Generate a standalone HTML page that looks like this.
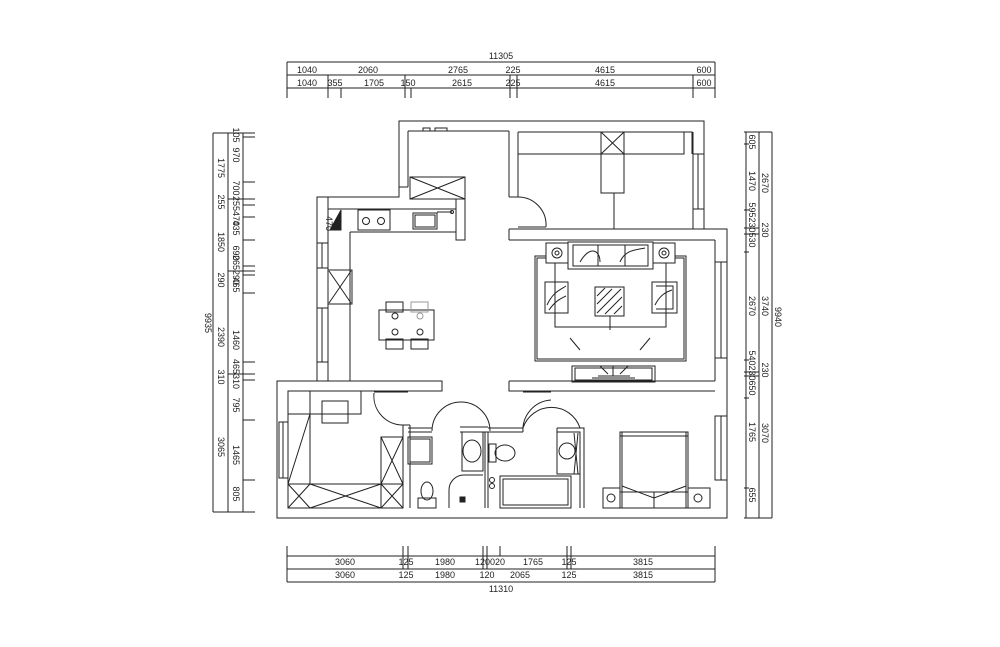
<!DOCTYPE html>
<html><head><meta charset="utf-8"><style>
html,body{margin:0;padding:0;background:#fff;width:1000px;height:647px;overflow:hidden}
svg{display:block}
text{font-family:"Liberation Sans",sans-serif;font-size:9px;fill:#222}
</style></head><body>
<svg width="1000" height="647" viewBox="0 0 1000 647" xmlns="http://www.w3.org/2000/svg">
<g stroke="#222" stroke-width="1" fill="none">
<!-- top dims -->
<line x1="287" y1="62" x2="715" y2="62"/><line x1="287" y1="75" x2="715" y2="75"/><line x1="287" y1="88" x2="715" y2="88"/>
<line x1="287" y1="62" x2="287" y2="98"/><line x1="715" y1="62" x2="715" y2="98"/>
<line x1="328" y1="75" x2="328" y2="98"/><line x1="405" y1="75" x2="405" y2="98"/><line x1="510" y1="75" x2="510" y2="98"/><line x1="517" y1="75" x2="517" y2="98"/><line x1="693" y1="75" x2="693" y2="98"/>
<line x1="341" y1="88" x2="341" y2="98"/><line x1="411" y1="88" x2="411" y2="98"/>
<!-- bottom dims -->
<line x1="287" y1="556" x2="715" y2="556"/><line x1="287" y1="569" x2="715" y2="569"/><line x1="287" y1="582" x2="715" y2="582"/>
<line x1="287" y1="546" x2="287" y2="582"/><line x1="715" y1="546" x2="715" y2="582"/>
<line x1="403" y1="546" x2="403" y2="569"/><line x1="408" y1="546" x2="408" y2="569"/><line x1="483" y1="546" x2="483" y2="569"/><line x1="487" y1="546" x2="487" y2="569"/><line x1="500" y1="546" x2="500" y2="556"/><line x1="567" y1="546" x2="567" y2="569"/><line x1="571" y1="546" x2="571" y2="569"/>
<!-- left dims -->
<line x1="213" y1="133" x2="213" y2="512"/><line x1="228" y1="133" x2="228" y2="512"/><line x1="243" y1="133" x2="243" y2="512"/>
<line x1="213" y1="133" x2="255" y2="133"/><line x1="213" y1="512" x2="255" y2="512"/>
<g>
<line x1="243" y1="137" x2="255" y2="137"/><line x1="243" y1="182" x2="255" y2="182"/><line x1="228" y1="199" x2="255" y2="199"/><line x1="243" y1="205" x2="255" y2="205"/><line x1="243" y1="217" x2="255" y2="217"/><line x1="243" y1="240" x2="255" y2="240"/><line x1="243" y1="266" x2="255" y2="266"/><line x1="228" y1="271" x2="255" y2="271"/><line x1="243" y1="275" x2="255" y2="275"/><line x1="243" y1="293" x2="255" y2="293"/><line x1="243" y1="362" x2="255" y2="362"/><line x1="228" y1="374" x2="255" y2="374"/><line x1="243" y1="380" x2="255" y2="380"/><line x1="243" y1="420" x2="255" y2="420"/><line x1="243" y1="480" x2="255" y2="480"/>
</g>
<!-- right dims -->
<line x1="746" y1="132" x2="746" y2="518"/><line x1="759" y1="132" x2="759" y2="518"/><line x1="772" y1="132" x2="772" y2="518"/>
<line x1="744" y1="132" x2="772" y2="132"/><line x1="744" y1="518" x2="772" y2="518"/>
<line x1="744" y1="144" x2="749" y2="144"/><line x1="744" y1="210" x2="749" y2="210"/><line x1="744" y1="228" x2="759" y2="228"/><line x1="744" y1="234" x2="759" y2="234"/><line x1="744" y1="252" x2="749" y2="252"/><line x1="744" y1="360" x2="749" y2="360"/><line x1="744" y1="372" x2="759" y2="372"/><line x1="744" y1="376" x2="759" y2="376"/><line x1="744" y1="398" x2="749" y2="398"/><line x1="744" y1="488" x2="749" y2="488"/>

<!-- outer walls -->
<path d="M399 121 H704 V229 H727 V518 H277 V381 H317 V197 H399 Z"/>
<path d="M408 131 H509 M518 132 H692 V154 M693 132 V229 M408 131 V187 M399 197 V187 H408"/>
<!-- top-left room windows/details -->
<rect x="423" y="128" width="7" height="3"/><rect x="435" y="128" width="12" height="3"/>
<!-- fridge -->
<rect x="410" y="177" width="55" height="22"/><path d="M410 177 L465 199 M465 177 L410 199"/>
<path d="M456 199 V240 H465 V177"/>
<!-- kitchen counter -->
<path d="M328 209 H456 M350 232 H456 M328 209 V381 M350 232 V381 M328 197 V209"/>
<rect x="358" y="210" width="32" height="20"/><circle cx="366" cy="221" r="3.5"/><circle cx="381" cy="221" r="3.5"/>
<rect x="413" y="213" width="24" height="16"/><rect x="415" y="215" width="20" height="12"/>
<path d="M437 212 H452" /><circle cx="452" cy="212" r="1.5"/>
<path d="M330 230 L341 210 V230 Z" fill="#222"/>
<!-- kitchen left window and box -->
<rect x="317" y="243" width="11" height="25"/><line x1="322" y1="243" x2="322" y2="268"/>
<rect x="317" y="308" width="11" height="54"/><line x1="322" y1="308" x2="322" y2="362"/>
<rect x="328" y="270" width="24" height="34"/><path d="M329 271 L351 303 M351 271 L329 303"/>
<!-- dining table -->
<rect x="379" y="310" width="55" height="30"/>
<rect x="386" y="302" width="17" height="10"/><rect x="411" y="302" width="17" height="10" stroke="#999"/>
<rect x="386" y="339" width="17" height="10"/><rect x="411" y="339" width="17" height="10"/>
<circle cx="395" cy="316" r="3"/><circle cx="420" cy="316" r="3" stroke="#999"/><circle cx="395" cy="332" r="3"/><circle cx="420" cy="332" r="3"/>

<!-- bedroom 1 top right -->
<path d="M509 131 V197 M518 132 V197 M509 197 H518"/>
<path d="M509 229 H715 M509 240 H715 M509 229 V240 M715 240 V381"/>
<path d="M518 197 A28 28 0 0 1 546 227"/><line x1="518" y1="227" x2="546" y2="227"/>
<path d="M518 154 H684 V132"/>
<rect x="601" y="132" width="23" height="22"/><path d="M601 132 L624 154 M624 132 L601 154"/>
<rect x="601" y="154" width="23" height="39"/><line x1="614" y1="193" x2="614" y2="229"/>
<rect x="693" y="154" width="11" height="55"/><line x1="698" y1="154" x2="698" y2="209"/>
<!-- living -->
<rect x="715" y="262" width="12" height="96"/><line x1="721" y1="262" x2="721" y2="358"/>
<rect x="535" y="256" width="151" height="105"/><rect x="537" y="258" width="147" height="101"/>
<rect x="568" y="242" width="85" height="27" fill="#fff"/><path d="M573 245 H648 V266 H573 Z M580 262 C590 245 600 250 600 262 M620 262 C625 250 635 250 645 248 M598 266 V245 M625 266 V245"/>
<rect x="546" y="243" width="22" height="20" fill="#fff"/><circle cx="557" cy="253" r="5"/><circle cx="557" cy="253" r="2"/>
<rect x="653" y="243" width="22" height="20" fill="#fff"/><circle cx="664" cy="253" r="5"/><circle cx="664" cy="253" r="2"/>
<rect x="545" y="282" width="23" height="31" fill="#fff"/><path d="M547 305 C553 292 560 290 566 286 M549 310 C556 300 562 298 566 296"/>
<rect x="652" y="282" width="25" height="31" fill="#fff"/><path d="M656 286 H673 V309 H656 M655 305 C660 295 666 292 672 290"/>
<rect x="595" y="287" width="29" height="29"/><path d="M597 304 L612 289 M597 313 L621 289 M605 314 L622 297 M614 314 L622 306 M597 296 L605 288"/>
<path d="M555 263 V327 H666 V263 M610 316 V330 M570 338 L580 350 M650 338 L640 350"/>
<rect x="572" y="366" width="83" height="16"/><rect x="575" y="368" width="77" height="12"/>
<path d="M592 378 H635 M598 376 H630 M613 366 V376 M600 366 L608 374 M628 366 L620 374"/>
<!-- middle wall -->
<path d="M277 381 M317 381 H442 V391 H288 M509 381 V391 H715 M509 381 H715"/>
<line x1="442" y1="381" x2="442" y2="391"/>
<!-- bottom-left bedroom -->
<path d="M288 391 V508 H403 V425 M410 425 V508 M403 425 H410"/>
<rect x="279" y="422" width="9" height="56"/><line x1="283" y1="422" x2="283" y2="478"/>
<rect x="288" y="391" width="73" height="23"/><line x1="310" y1="391" x2="310" y2="484"/>
<rect x="322" y="401" width="26" height="22"/>
<line x1="310" y1="414" x2="288" y2="484"/>
<rect x="288" y="484" width="115" height="24"/><path d="M288 484 L310 508 M310 484 L288 508 M310 484 L381 508 M381 484 L310 508"/>
<rect x="381" y="437" width="22" height="71"/><path d="M381 437 L403 484 M403 437 L381 484 M381 484 L403 508 M403 484 L381 508"/>
<path d="M374 393 A29 29 0 0 0 403 425"/><line x1="374" y1="392" x2="408" y2="392"/>
<!-- bathrooms -->
<path d="M408 428 H432 M408 432 H432"/>
<path d="M432 431 A29 29 0 0 1 490 431"/>
<path d="M460 427 H488 M460 432 H488 V508 M485 432 V508 M488 428 H523 M488 432 H523"/>
<rect x="408" y="437" width="24" height="27"/><rect x="410" y="439" width="20" height="23"/>
<ellipse cx="427" cy="491" rx="6" ry="9"/><rect x="418" y="498" width="18" height="10"/>
<rect x="462" y="432" width="21" height="39"/><ellipse cx="472" cy="451" rx="9" ry="11"/>
<path d="M449 508 V490 A15 15 0 0 1 464 475 H483"/><rect x="460" y="497" width="5" height="5" fill="#222"/>
<rect x="489" y="444" width="7" height="18"/><ellipse cx="505" cy="453" rx="10" ry="8"/>
<rect x="500" y="476" width="71" height="32"/><rect x="503" y="479" width="65" height="26"/>
<circle cx="492" cy="480" r="2.5"/><circle cx="492" cy="486" r="2.5"/>
<path d="M523 432 A30 30 0 0 1 551 400 M523 428 A30 30 0 0 1 580 428"/>
<path d="M557 428 H584 V508 M557 432 H580 V508 M557 428 V474 H580"/>
<circle cx="567" cy="451" r="8"/><path d="M574 433 L578 474 M578 433 L574 474"/>
<rect x="509" y="391" width="0" height="0"/>
<line x1="523" y1="392" x2="551" y2="392"/>
<!-- right bedroom -->
<rect x="620" y="432" width="68" height="76"/><path d="M622 432 V508 M686 432 V508 M620 436 H688"/>
<path d="M622 486 L654 498 L686 486 M620 492 H688 M654 492 V508"/>
<rect x="603" y="488" width="17" height="20"/><circle cx="611" cy="498" r="4"/>
<rect x="688" y="488" width="22" height="20"/><circle cx="698" cy="498" r="4"/>
<rect x="715" y="416" width="12" height="64"/><line x1="721" y1="416" x2="721" y2="480"/>
</g>
<!-- labels -->
<text x="501" y="59" text-anchor="middle">11305</text>
<g text-anchor="middle">
<text x="307" y="73">1040</text><text x="368" y="73">2060</text><text x="458" y="73">2765</text><text x="513" y="73">225</text><text x="605" y="73">4615</text><text x="704" y="73">600</text>
<text x="307" y="86">1040</text><text x="335" y="86">355</text><text x="374" y="86">1705</text><text x="408" y="86">150</text><text x="462" y="86">2615</text><text x="513" y="86">225</text><text x="605" y="86">4615</text><text x="704" y="86">600</text>
<text x="345" y="565">3060</text><text x="406" y="565">125</text><text x="445" y="565">1980</text><text x="490" y="565">120020</text><text x="533" y="565">1765</text><text x="569" y="565">125</text><text x="643" y="565">3815</text>
<text x="345" y="578">3060</text><text x="406" y="578">125</text><text x="445" y="578">1980</text><text x="487" y="578">120</text><text x="520" y="578">2065</text><text x="569" y="578">125</text><text x="643" y="578">3815</text>
<text x="501" y="592">11310</text>
</g>
<g text-anchor="middle" font-size="8">
<text transform="translate(205,323) rotate(90)">9935</text>
<text transform="translate(218,168) rotate(90)">1775</text><text transform="translate(218,202) rotate(90)">255</text><text transform="translate(218,242) rotate(90)">1850</text><text transform="translate(218,280) rotate(90)">290</text><text transform="translate(218,337) rotate(90)">2390</text><text transform="translate(218,377) rotate(90)">310</text><text transform="translate(218,447) rotate(90)">3065</text>
<text transform="translate(233,135) rotate(90)">105</text><text transform="translate(233,155) rotate(90)">970</text><text transform="translate(233,188) rotate(90)">700</text><text transform="translate(233,211) rotate(90)">255470</text><text transform="translate(233,228) rotate(90)">435</text><text transform="translate(233,253) rotate(90)">690</text><text transform="translate(233,270) rotate(90)">265290</text><text transform="translate(233,285) rotate(90)">465</text><text transform="translate(233,340) rotate(90)">1460</text><text transform="translate(233,374) rotate(90)">465310</text><text transform="translate(233,405) rotate(90)">795</text><text transform="translate(233,455) rotate(90)">1465</text><text transform="translate(233,494) rotate(90)">805</text>
<text transform="translate(749,142) rotate(90)">605</text><text transform="translate(749,181) rotate(90)">1470</text><text transform="translate(749,225) rotate(90)">595230530</text><text transform="translate(749,306) rotate(90)">2670</text><text transform="translate(749,373) rotate(90)">540230650</text><text transform="translate(749,432) rotate(90)">1765</text><text transform="translate(749,495) rotate(90)">655</text>
<text transform="translate(762,183) rotate(90)">2670</text><text transform="translate(762,230) rotate(90)">230</text><text transform="translate(762,306) rotate(90)">3740</text><text transform="translate(762,370) rotate(90)">230</text><text transform="translate(762,433) rotate(90)">3070</text>
<text transform="translate(775,317) rotate(90)">9940</text>
</g>
<text x="330" y="232" font-size="6" transform="rotate(90,336,222)">470</text>
</svg>
</body></html>
